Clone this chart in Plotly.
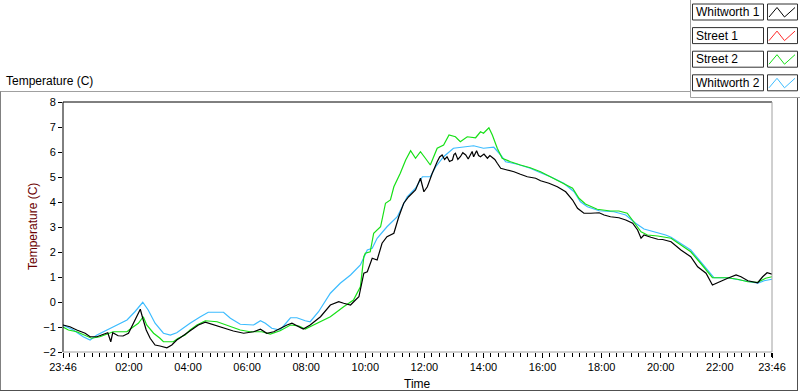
import plotly.graph_objects as go
from datetime import datetime, timedelta

# ---------------- data ----------------
series_names = ["Whitworth 1", "Street 1", "Street 2", "Whitworth 2"]
series_colors = ["#000000", "#ff2a2a", "#16e016", "#3cbcff"]

whitworth1_times = [
    "23:46", "00:00", "00:14", "00:31", "00:41", "00:55", "01:07", "01:17", "01:23", "01:27",
    "01:38", "01:48", "01:59", "02:09", "02:17", "02:23", "02:28", "02:35", "02:43", "02:53",
    "03:03", "03:17", "03:27", "03:37", "03:44", "04:04", "04:21", "04:35", "04:52", "05:12",
    "05:32", "05:53", "06:13", "06:27", "06:40", "06:54", "07:07", "07:21", "07:31", "07:45",
    "07:54", "08:08", "08:29", "08:49", "09:06", "09:16", "09:30", "09:40", "09:47", "09:57",
    "10:04", "10:14", "10:24", "10:34", "10:44", "10:58", "11:08", "11:18", "11:28", "11:42",
    "11:52", "11:59", "12:06", "12:16", "12:21", "12:26", "12:31", "12:36", "12:41", "12:46",
    "12:51", "12:57", "13:00", "13:03", "13:08", "13:13", "13:18", "13:24", "13:29", "13:34",
    "13:37", "13:40", "13:46", "13:50", "13:54", "14:01", "14:08", "14:13", "14:18", "14:23",
    "14:28", "14:35", "14:48",
    "15:02", "15:15", "15:29", "15:46", "15:56", "16:13", "16:30", "16:47", "17:01", "17:11",
    "17:24", "17:38", "17:55", "18:05", "18:18", "18:35", "18:49", "19:03", "19:13", "19:20",
    "19:26", "19:40", "19:54", "20:04", "20:21", "20:41", "21:01", "21:15", "21:32", "21:45",
    "21:59", "22:16", "22:33", "22:43", "22:57", "23:10", "23:17", "23:27", "23:36", "23:46",
]
whitworth1_temp = [
    -0.92, -0.99, -1.12, -1.25, -1.39, -1.39, -1.30, -1.23, -1.59, -1.23,
    -1.35, -1.36, -1.25, -0.85, -0.52, -0.29, -0.65, -1.12, -1.45, -1.72,
    -1.76, -1.83, -1.72, -1.52, -1.43, -1.16, -0.92, -0.81, -0.92, -1.05,
    -1.16, -1.25, -1.19, -1.09, -1.25, -1.19, -1.05, -0.92, -0.85, -0.99,
    -1.08, -0.92, -0.59, -0.12, 0.01, -0.05, -0.12, 0.08, 0.21, 1.15,
    1.21, 1.75, 1.68, 2.35, 2.61, 2.75, 3.41, 3.95, 4.21, 4.48,
    4.95, 4.41, 4.61, 5.15, 5.42, 5.61, 5.80, 5.88, 5.70, 5.81,
    5.62, 5.68, 5.90, 5.95, 5.70, 5.81, 5.97, 5.88, 5.72, 5.95,
    6.02, 5.81, 6.05, 5.86, 5.81, 5.92, 5.75, 5.86, 5.77, 5.70,
    5.55, 5.35, 5.28,
    5.21, 5.11, 5.01, 4.95, 4.85, 4.75, 4.61, 4.41, 4.08, 3.75,
    3.55, 3.55, 3.57, 3.48, 3.41, 3.37, 3.28, 3.15, 2.88, 2.55,
    2.68, 2.59, 2.51, 2.50, 2.41, 2.08, 1.81, 1.41, 1.15, 0.68,
    0.81, 0.95, 1.08, 1.01, 0.85, 0.79, 0.77, 1.01, 1.17, 1.11,
]

street1_times = []
street1_temp = []

street2_times = [
    "23:46", "23:57", "00:14", "00:31", "00:44", "01:01", "01:18", "01:28", "01:56", "02:02",
    "02:19", "02:29", "02:36", "02:50", "03:03", "03:10", "03:30", "03:40", "03:54", "04:04",
    "04:18", "04:35", "04:59", "05:19", "05:46", "06:06", "06:30", "06:47", "07:07", "07:28",
    "07:45", "07:58", "08:15", "08:49", "09:16", "09:36", "09:50", "09:57", "10:00", "10:10",
    "10:17", "10:31", "10:41", "10:51", "10:58", "11:11", "11:22", "11:32", "11:42", "11:52",
    "12:02", "12:12", "12:26", "12:39", "12:50", "13:03", "13:13", "13:27", "13:44", "13:54",
    "14:00", "14:11", "14:18", "14:28", "14:38", "14:55", "15:15", "15:35", "15:56", "16:09",
    "16:23", "16:43", "17:01", "17:14", "17:27", "17:51", "18:18", "18:35", "18:52", "19:05",
    "19:20", "19:33", "19:54", "20:21", "20:41", "21:01", "21:21", "21:38", "21:45", "22:16",
    "22:36", "22:57", "23:17", "23:33", "23:46",
]
street2_temp = [
    -1.00, -1.12, -1.19, -1.32, -1.45, -1.39, -1.28, -1.19, -1.19, -1.09,
    -0.85, -0.59, -0.92, -1.25, -1.45, -1.59, -1.59, -1.45, -1.32, -1.12,
    -0.92, -0.75, -0.79, -0.92, -1.12, -1.19, -1.19, -1.28, -1.15, -0.92,
    -0.96, -1.08, -0.92, -0.59, -0.19, 0.08, 0.61, 1.81, 1.95, 2.01,
    2.75, 3.01, 3.95, 4.08, 4.61, 5.15, 5.68, 6.05, 5.75, 6.01,
    5.75, 5.48, 6.15, 6.28, 6.68, 6.61, 6.41, 6.61, 6.57, 6.81,
    6.75, 6.97, 6.68, 6.15, 5.75, 5.61, 5.48, 5.37, 5.21, 5.08,
    4.95, 4.75, 4.55, 4.15, 3.92, 3.71, 3.64, 3.64, 3.55, 3.21,
    2.81, 2.68, 2.64, 2.55, 2.28, 2.01, 1.55, 1.17, 0.97, 0.97,
    0.91, 0.81, 0.79, 0.95, 1.01,
]

whitworth2_times = [
    "23:46", "00:07", "00:27", "00:41", "00:55", "01:15", "01:35", "01:56", "02:12", "02:28",
    "02:39", "02:53", "03:10", "03:24", "03:37", "03:54", "04:04", "04:25", "04:41", "05:12",
    "05:26", "05:46", "06:13", "06:27", "06:37", "06:50", "07:07", "07:28", "07:41", "07:58",
    "08:08", "08:25", "08:49", "09:09", "09:30", "09:50", "10:04", "10:14", "10:24", "10:44",
    "11:05", "11:25", "11:42", "11:56", "12:12", "12:23", "12:39", "12:59", "13:20", "13:40",
    "14:00", "14:21", "14:35", "14:45", "15:09", "15:35", "15:56", "16:16", "16:43", "17:04",
    "17:17", "17:31", "17:55", "18:25", "18:49", "19:09", "19:26", "19:47", "20:10", "20:21",
    "20:41", "21:01", "21:21", "21:41", "21:48", "22:16", "22:43", "23:03", "23:17", "23:30",
    "23:46",
]
whitworth2_temp = [
    -0.92, -1.12, -1.39, -1.52, -1.32, -1.12, -0.92, -0.72, -0.39, -0.01,
    -0.32, -0.85, -1.25, -1.32, -1.23, -0.99, -0.85, -0.59, -0.41, -0.41,
    -0.65, -0.89, -0.92, -0.75, -0.85, -1.05, -1.12, -0.63, -0.63, -0.75,
    -0.79, -0.39, 0.35, 0.75, 1.08, 1.48, 2.08, 2.15, 2.55, 3.01,
    3.41, 4.21, 4.55, 5.01, 5.01, 5.41, 5.81, 6.15, 6.21, 6.25,
    6.15, 6.19, 5.88, 5.61, 5.51, 5.35, 5.17, 5.01, 4.75, 4.41,
    4.01, 3.81, 3.65, 3.61, 3.48, 3.15, 2.92, 2.81, 2.68, 2.59,
    2.35, 2.08, 1.61, 1.15, 0.97, 0.97, 0.88, 0.79, 0.75, 0.85,
    0.91,
]

x_tick_labels = ["23:46", "02:00", "04:00", "06:00", "08:00", "10:00", "12:00",
                 "14:00", "16:00", "18:00", "20:00", "22:00", "23:46"]
y_tick_values = [-2, -1, 0, 1, 2, 3, 4, 5, 6, 7, 8]

# ---------------- helpers ----------------
BASE = datetime(2024, 1, 1)


def to_datetimes(clock_list):
    out, day, prev = [], 0, None
    for s in clock_list:
        h, m = map(int, s.split(":"))
        mins = h * 60 + m
        if prev is not None and mins < prev:
            day += 1
        prev = mins
        out.append(BASE + timedelta(days=day, minutes=mins))
    return out


tick_dates = to_datetimes(x_tick_labels)
x_start, x_end = tick_dates[0], tick_dates[-1]

# pixel geometry of the plot area (layout only)
W, H = 800, 392
PL, PR, PT, PB = 63, 772, 102, 352


def px(x):
    return (x - PL) / (PR - PL)


def py(y):
    return (PB - y) / (PB - PT)


FONT = "Liberation Sans, Arial, sans-serif"

fig = go.Figure()
all_series = [
    (whitworth1_times, whitworth1_temp),
    (street1_times, street1_temp),
    (street2_times, street2_temp),
    (whitworth2_times, whitworth2_temp),
]
# draw order: Whitworth 2, Street 2, Street 1, Whitworth 1 on top
for idx in [3, 2, 1, 0]:
    t, v = all_series[idx]
    fig.add_trace(go.Scatter(
        x=to_datetimes(t), y=v, mode="lines", name=series_names[idx],
        line=dict(color=series_colors[idx], width=1.2), showlegend=False,
    ))

shapes = []


def hline(y, x0, x1, color):
    shapes.append(dict(type="line", xref="paper", yref="paper",
                       x0=px(x0), x1=px(x1), y0=py(y), y1=py(y),
                       line=dict(color=color, width=1)))


def vline(x, y0, y1, color):
    shapes.append(dict(type="line", xref="paper", yref="paper",
                       x0=px(x), x1=px(x), y0=py(y0), y1=py(y1),
                       line=dict(color=color, width=1)))


# outer frame
hline(91.5, 0, 690, "#a0a0a0")
vline(0.5, 91.5, 391, "#808080")
hline(390.5, 0, 798, "#505050")
vline(797.5, 97.5, 391, "#505050")
# legend panel edges
vline(690.5, 0, 97.5, "#a0a0a0")
hline(97.5, 690.5, 800, "#a0a0a0")
# plot frame
hline(PT, PL, PR, "#000000")
vline(PL, PT, PB, "#000000")
vline(PR, PT, PB, "#a0a0a0")
hline(PB, PL, PR, "#a0a0a0")

annotations = []
# legend boxes
for i, name in enumerate(series_names):
    top = 4 + 23.6 * i
    bot = top + 16
    shapes.append(dict(type="rect", xref="paper", yref="paper",
                       x0=px(692.5), x1=px(763.5), y0=py(bot), y1=py(top),
                       line=dict(color="#303030", width=1), fillcolor="white"))
    shapes.append(dict(type="rect", xref="paper", yref="paper",
                       x0=px(767.5), x1=px(797.5), y0=py(bot), y1=py(top),
                       line=dict(color="#303030", width=1), fillcolor="white"))
    pts = [(769, top + 13), (777, top + 3.5), (784.5, top + 13), (795, top + 3.5)]
    path = "M " + " L ".join(f"{px(a)},{py(b)}" for a, b in pts)
    shapes.append(dict(type="path", xref="paper", yref="paper", path=path,
                       line=dict(color=series_colors[i], width=1)))
    annotations.append(dict(text=name, xref="paper", yref="paper",
                            x=px(694), y=py(top + 8), xanchor="left", yanchor="middle",
                            showarrow=False, font=dict(family=FONT, size=12, color="#000000")))

# titles
annotations.append(dict(text="Temperature (C)", xref="paper", yref="paper",
                        x=px(4), y=py(81), xanchor="left", yanchor="middle",
                        showarrow=False, font=dict(family=FONT, size=12, color="#000000")))
annotations.append(dict(text="Temperature (C)", xref="paper", yref="paper",
                        x=px(33), y=py(227), xanchor="center", yanchor="middle",
                        textangle=-90, showarrow=False,
                        font=dict(family=FONT, size=12, color="#6b0000")))
annotations.append(dict(text="Time", xref="paper", yref="paper",
                        x=px(417), y=py(384), xanchor="center", yanchor="middle",
                        showarrow=False, font=dict(family=FONT, size=12, color="#000000")))

fig.update_layout(
    width=W, height=H,
    margin=dict(l=PL, r=W - PR, t=PT, b=H - PB, pad=0),
    paper_bgcolor="white", plot_bgcolor="white",
    showlegend=False,
    shapes=shapes, annotations=annotations,
    font=dict(family=FONT, size=11, color="#000000"),
    xaxis=dict(
        type="date", range=[x_start, x_end],
        tickmode="array", tickvals=tick_dates, ticktext=x_tick_labels,
        ticks="outside", ticklen=5, tickcolor="#000000", tickwidth=1,
        showgrid=False, zeroline=False, showline=False,
        tickfont=dict(family=FONT, size=11, color="#000000"),
        minor=dict(tickmode="linear", dtick=15 * 60 * 1000, tick0="2024-01-02 00:00",
                   ticks="outside", ticklen=4, tickcolor="#000000", showgrid=False),
    ),
    yaxis=dict(
        range=[-2, 8], tickmode="array", tickvals=y_tick_values,
        ticks="outside", ticklen=4, tickcolor="#000000", tickwidth=1,
        showgrid=False, zeroline=False, showline=False,
        tickfont=dict(family=FONT, size=11, color="#000000"),
    ),
)

fig.write_html(
    "out.html",
    config={"displayModeBar": False},
    post_script="document.body.style.margin='0';document.body.style.overflow='hidden';",
)
